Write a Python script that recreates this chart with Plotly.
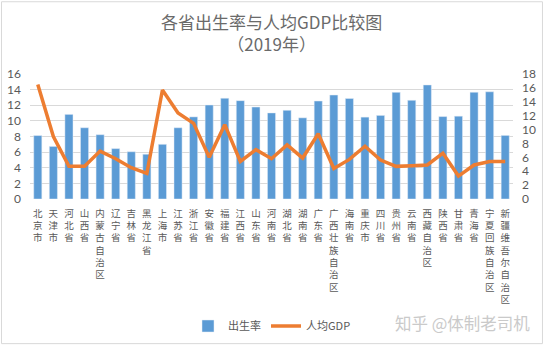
import plotly.graph_objects as go

provinces = ["北京市", "天津市", "河北省", "山西省", "内蒙古自治区", "辽宁省", "吉林省", "黑龙江省",
             "上海市", "江苏省", "浙江省", "安徽省", "福建省", "江西省", "山东省", "河南省",
             "湖北省", "湖南省", "广东省", "广西壮族自治区", "海南省", "重庆市", "四川省", "贵州省",
             "云南省", "西藏自治区", "陕西省", "甘肃省", "青海省", "宁夏回族自治区", "新疆维吾尔自治区"]

birth_rate = [8.12, 6.73, 10.83, 9.12, 8.23, 6.45, 6.05, 5.73, 7.00, 9.12, 10.51, 12.03, 12.90, 12.59,
              11.77, 11.02, 11.35, 10.39, 12.54, 13.31, 12.87, 10.48, 10.70, 13.65, 12.63, 14.60,
              10.55, 10.60, 13.66, 13.72, 8.14]

gdp_per_capita = [16.5, 9.0, 4.7, 4.7, 6.9, 5.8, 4.5, 3.7, 15.7, 12.4, 10.9, 6.0, 10.7, 5.4, 7.1, 5.8,
                  7.8, 5.9, 9.4, 4.4, 5.7, 7.6, 5.6, 4.7, 4.8, 4.9, 6.6, 3.3, 4.9, 5.4, 5.4]

left_ticks = list(range(0, 17, 2))
right_ticks = list(range(0, 19, 2))

title_lines = ["各省出生率与人均GDP比较图", "（2019年）"]

vertical_labels = ["<br>".join(list(p)) for p in provinces]

FONT = "Lato, 'Noto Sans CJK SC', sans-serif"
CJK = "'Noto Sans CJK SC', sans-serif"
GRAY = "#595959"

fig = go.Figure()
fig.add_trace(go.Bar(x=provinces, y=birth_rate, name="出生率", marker_color="#5B9BD5",
                     yaxis="y"))
fig.add_trace(go.Scatter(x=provinces, y=gdp_per_capita, name="人均GDP", mode="lines",
                         line=dict(color="#ED7D31", width=3.5), yaxis="y2"))

fig.update_layout(
    width=544, height=346,
    margin=dict(l=30, r=31, t=74, b=147, autoexpand=False),
    paper_bgcolor="white", plot_bgcolor="white",
    bargap=0.48,
    showlegend=True,
    xaxis=dict(tickmode="array", tickvals=provinces, ticktext=vertical_labels,
               tickangle=0, tickfont=dict(family=CJK, size=9.5, color=GRAY), automargin=False,
               showgrid=False, showline=False, ticks="", ticklabelstandoff=7),
    yaxis=dict(range=[0, 16], tickvals=left_ticks, showgrid=True, gridcolor="#D9D9D9",
               gridwidth=1, zeroline=False, showline=False, ticks="", automargin=False,
               tickfont=dict(family=FONT, size=12, color=GRAY), ticklabelstandoff=8),
    yaxis2=dict(range=[0, 18], tickvals=right_ticks, overlaying="y", side="right",
                showgrid=False, zeroline=False, showline=False, ticks="", automargin=False,
                tickfont=dict(family=FONT, size=12, color=GRAY), ticklabelstandoff=8),
    legend=dict(orientation="h", xref="container", yref="container", x=0.5, xanchor="center",
                y=1 - 326 / 346, yanchor="middle", font=dict(family=CJK, size=11, color=GRAY),
                itemwidth=30, tracegroupgap=0),
)

fig.add_annotation(text="<br>".join(title_lines), xref="paper", yref="paper", x=0.5, y=1.335,
                   xanchor="center", yanchor="middle", showarrow=False,
                   font=dict(family=CJK, size=17, color="#6a6a6a"))

fig.add_annotation(text="知乎 @体制老司机", xref="paper", yref="paper",
                   x=1.04, xanchor="right", y=-0.99, yanchor="middle", showarrow=False,
                   font=dict(family=CJK, size=16.5, color="#cacaca"))

fig.add_shape(type="rect", xref="paper", yref="paper", x0=-0.059, x1=1.061, y0=-1.157, y1=1.578,
              line=dict(color="#D9D9D9", width=1), fillcolor="rgba(0,0,0,0)", layer="below")

fig.write_html("out.html")
